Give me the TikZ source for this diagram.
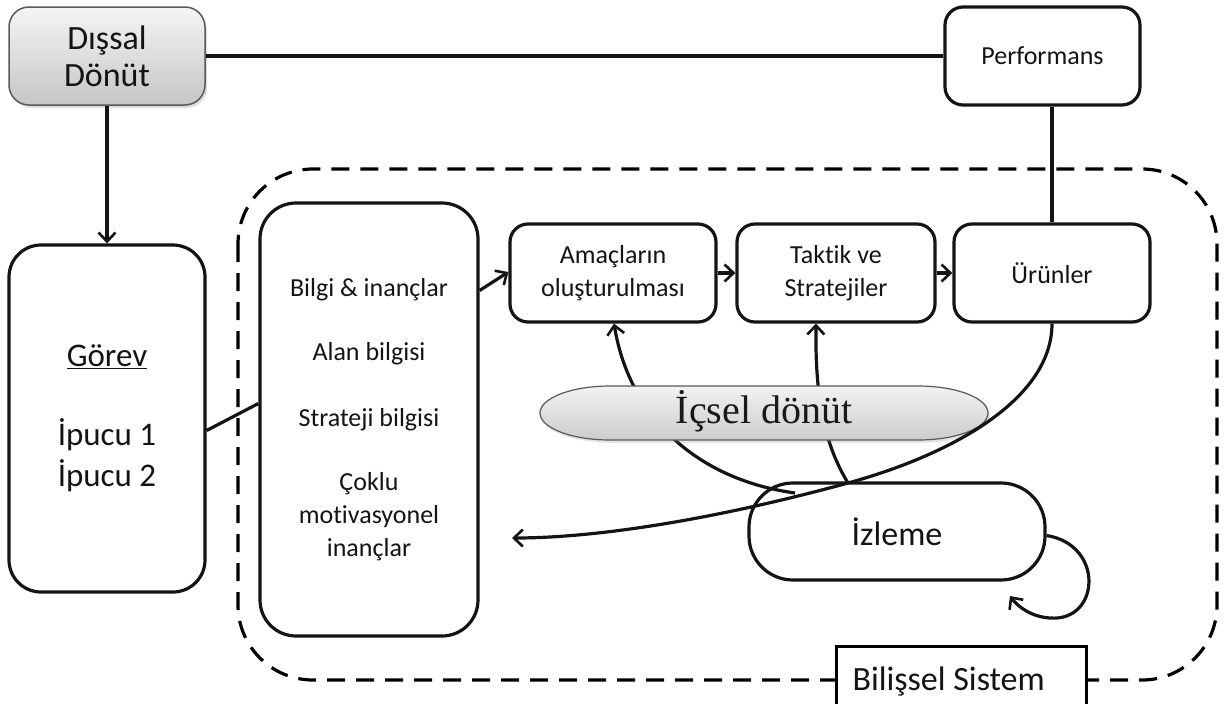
\documentclass[tikz,border=0pt]{standalone}
\usepackage{fontspec}
\setmainfont{Carlito}[Ligatures=NoCommon]
\newfontfamily\serifface{Liberation Serif}
\usetikzlibrary{arrows.meta,shadows,calc}

\begin{document}
\begin{tikzpicture}[x=1pt,y=-1pt,
  ink/.style={line width=3.2pt, draw=black!92},
  tip/.style={-{Straight Barb[length=9pt,width=17pt,line width=2.6pt]}},
  rbox/.style={ink, fill=white, rounded corners=#1, align=center, inner sep=0pt, text=black!92},
  rbox/.default=18pt,
  graybox/.style={draw=black!65, line width=1.5pt, rounded corners=20pt,
    top color=gray!8, bottom color=gray!45, align=center, inner sep=0pt, text=black!92,
    drop shadow={shadow xshift=2pt, shadow yshift=-3pt, opacity=0.25}},
  lab/.style={font=\fontsize{26}{33}\selectfont},
  big/.style={font=\fontsize{34}{37}\selectfont},
  cage/.style={line width=3.2pt, dash pattern=on 18pt off 11pt, rounded corners=75pt}]

\useasboundingbox (0,0) rectangle (1227,704);

% cognitive system frame
\draw[cage] (238,169) rectangle (1217,680);

% outer boxes
\node[graybox, minimum width=196pt, minimum height=98pt, big] (dis) at (107,56) {Dışsal\\Dönüt};
\node[rbox, minimum width=195pt, minimum height=98pt, lab] (perf) at (1042.5,56) {Performans};
\node[rbox=32pt, minimum width=196pt, minimum height=347pt,
      font=\fontsize{33}{41}\selectfont] (gorev) at (107,418.5)
      {\underline{Görev}\\[38pt]İpucu 1\\İpucu 2};

% knowledge and beliefs
\node[rbox=36pt, minimum width=218pt, minimum height=433pt] (bilgi) at (369,419.5) {};
\node[lab, text=black!92] (b1) at (369,290) {Bilgi \& inançlar};
\node[lab, text=black!92] (b2) at (369,354) {Alan bilgisi};
\node[lab, text=black!92] (b3) at (369,420) {Strateji bilgisi};
\node[lab, text=black!92, align=center] (b4) at (369,517)
      {Çoklu\\motivasyonel\\inançlar};

% process chain
\node[rbox, minimum width=206pt, minimum height=98pt, lab] (amac) at (613,273) {Amaçların\\oluşturulması};
\node[rbox, minimum width=198pt, minimum height=98pt, lab] (taktik) at (836,273) {Taktik ve\\Stratejiler};
\node[rbox, minimum width=196pt, minimum height=98pt, lab] (urun) at (1052,273) {Ürünler};

% monitoring
\node[rbox=44pt, minimum width=296pt, minimum height=97pt, big] (izl) at (897,531.5) {İzleme};

% system label
\node[draw, line width=3.2pt, fill=white, minimum width=250pt, minimum height=80pt,
      anchor=north west, inner sep=0pt] (sys) at (835,645) {};
\node[big, anchor=base west, text=black!92] (syslab) at (849,690) {Bilişsel Sistem};

% straight connectors
\draw[ink] (dis.east) -- (perf.west);
\draw[ink, tip] (dis.south) -- (gorev.north);
\draw[ink] ($(gorev.east)+(0,12)$) -- ($(bilgi.west)+(0,-16)$);
\draw[ink, tip] ($(bilgi.east)+(0,-129)$) -- ($(amac.west)+(0,-1)$);
\draw[ink, tip] (amac.east) -- (taktik.west);
\draw[ink, tip] (taktik.east) -- (urun.west);
\draw[ink] (perf.south -| urun.north) -- (urun.north);

% feedback curves
\coordinate (m1) at (795,493);
\coordinate (m2) at (848,483);
\coordinate (back) at (512,538);
\coordinate (loopend) at (1010,596);
\draw[ink, tip] (m1) .. controls (700,480) and (630,420) .. ($(amac.south)+(1,0)$);
\draw[ink, tip] (m2) .. controls (825,445) and (815,400) .. ($(taktik.south)+(-20,0)$);

% internal feedback
\path[draw=black!65, line width=1.2pt, top color=gray!10, bottom color=gray!40,
      drop shadow={shadow xshift=2pt, shadow yshift=-3pt, opacity=0.2}]
  (610,386) -- (918,386) arc[start angle=-90, end angle=90, x radius=70, y radius=27]
  -- (610,440) arc[start angle=90, end angle=270, x radius=70, y radius=27] -- cycle;
\node[font=\serifface\fontsize{40}{44}\selectfont, text=black!90] (icsel) at (764,411) {İçsel dönüt};

\draw[ink, tip] (urun.south) .. controls (1052,400) and (950,455) .. (m2)
  .. controls (720,518) and (600,538) .. (back);
\draw[ink, tip] ($(izl.east)+(0,4)$) .. controls (1105,545) and (1100,622) .. (1050,618)
  .. controls (1032,617) and (1018,607) .. (loopend);

\end{tikzpicture}
\end{document}
